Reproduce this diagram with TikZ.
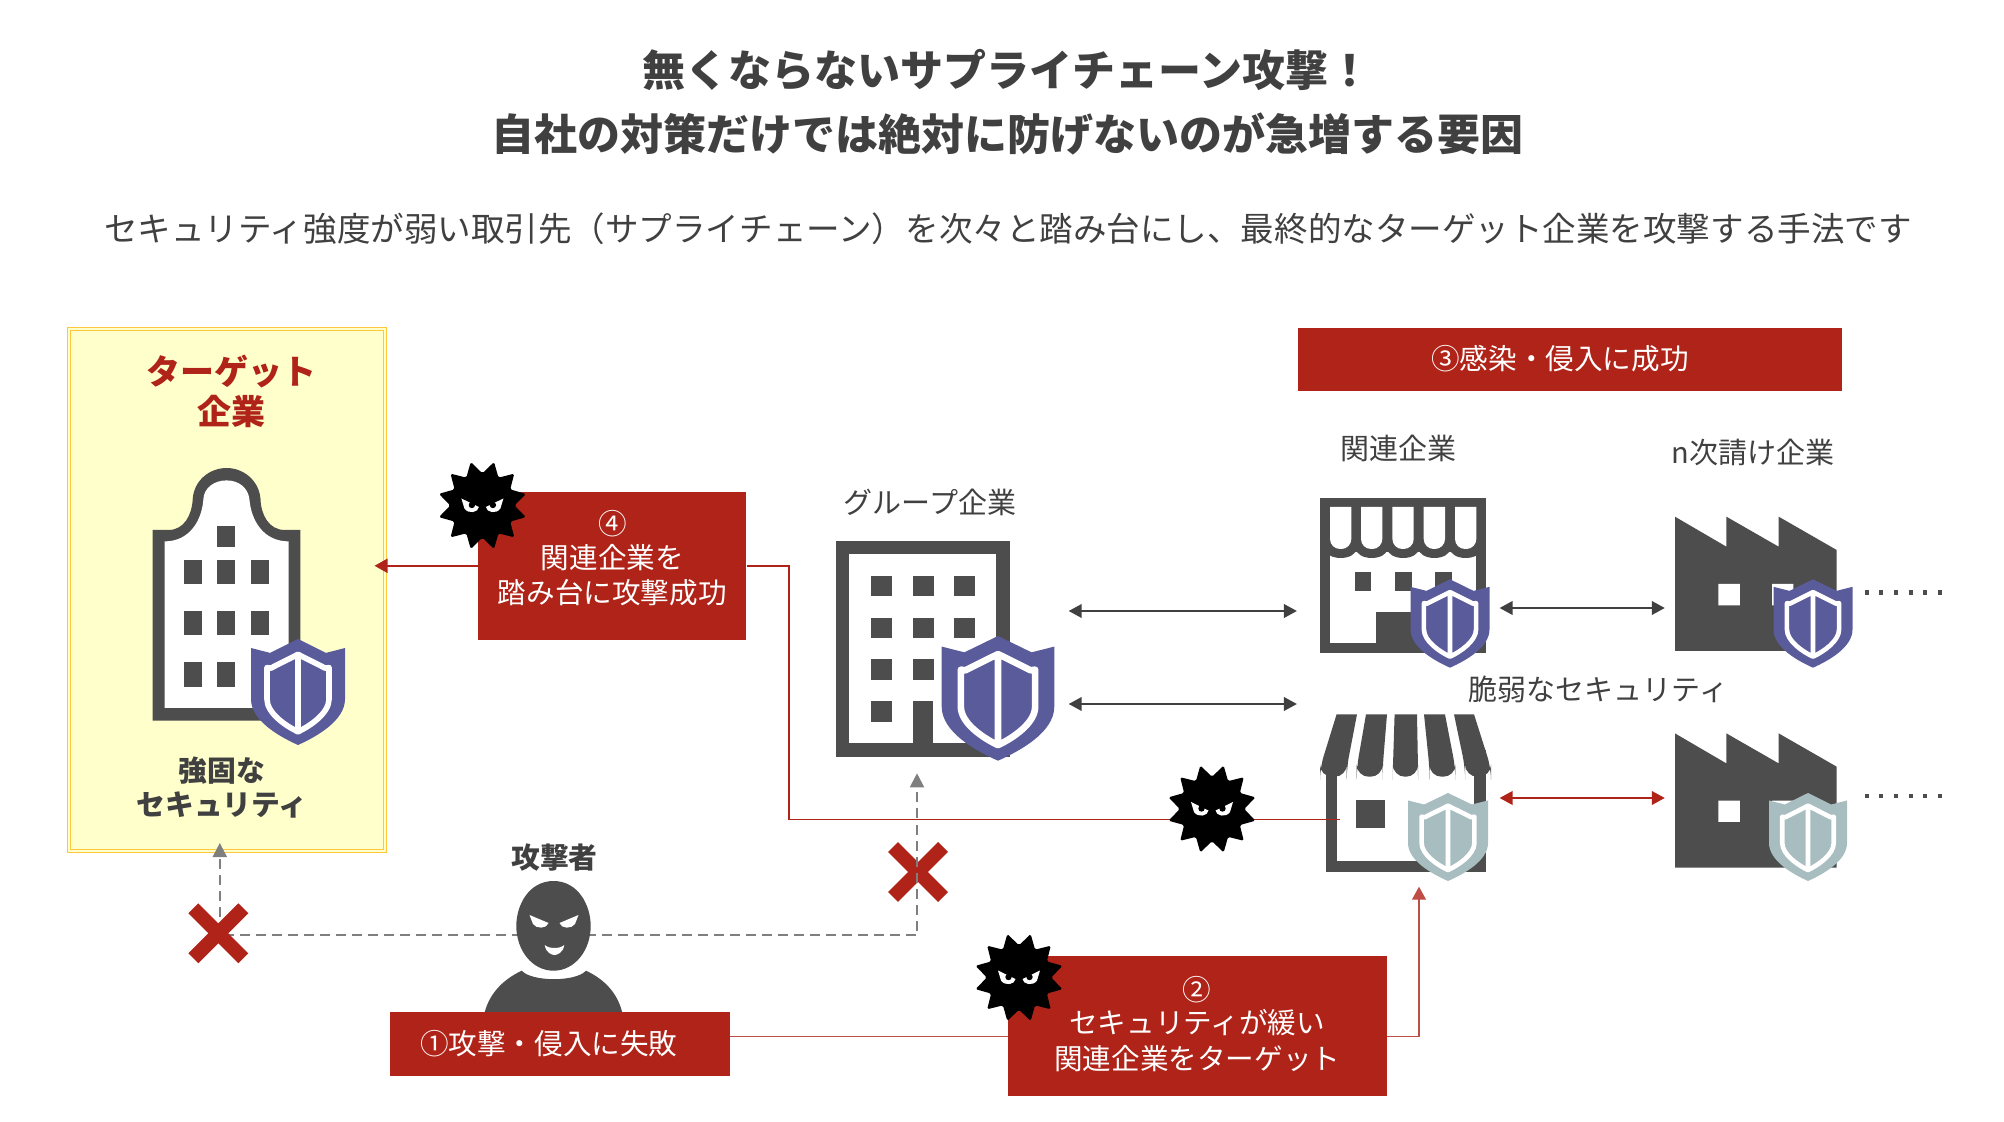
\documentclass[tikz,border=0pt]{standalone}
\usepackage{fontspec}
\setmainfont{Noto Sans CJK JP}
\usetikzlibrary{arrows.meta,shapes.geometric,shapes.misc}
\definecolor{ink}{HTML}{404040}
\definecolor{icon}{HTML}{4D4D4D}
\definecolor{attack}{HTML}{AF2318}
\definecolor{shieldblue}{HTML}{5A5B9B}
\definecolor{shieldpale}{HTML}{A8BDC0}
\definecolor{gold}{HTML}{FFC83C}
\definecolor{lightgold}{HTML}{FFFFCC}
\definecolor{dashgrey}{HTML}{7F7F7F}
\tikzset{
  headline/.style={text=ink,align=center,font=\fontsize{21.5}{32}\selectfont\bfseries},
  subline/.style={text=ink,font=\fontsize{16.77}{20}\selectfont},
  label/.style={text=ink,align=center,inner sep=0pt,font=\fontsize{14.5}{17}\selectfont},
  boldlabel/.style={text=ink,align=center,inner sep=0pt,font=\fontsize{14.4}{17}\selectfont\bfseries},
  redbox/.style={fill=attack,text=white,align=center,inner sep=0pt,font=\fontsize{14.3}{17.7}\selectfont},
  targetbox/.style={draw=gold,double=lightgold,double distance=1.2pt,line width=.5pt,fill=lightgold,
    minimum width=158pt,minimum height=261pt,inner sep=0pt},
  crossmark/.style={cross out,draw=attack,line width=7pt,minimum size=18pt,inner sep=0pt},
  virusstar/.style={star,star points=12,star point ratio=1.4,shape border rotate=15,fill=black,
    minimum size=45pt,inner sep=0pt,rounded corners=.8pt},
  twoway/.style={{Triangle[length=6.5pt,width=6.8pt]}-{Triangle[length=6.5pt,width=6.8pt]},draw=ink,line width=1pt},
  twowayred/.style={twoway,draw=attack},
  redline/.style={draw=attack,line width=.9pt},
  redarrow/.style={redline,-{Triangle[length=6.5pt,width=7pt]}},
  paleline/.style={draw=attack!80!white,line width=.6pt},
  trial/.style={draw=dashgrey,line width=1pt,dash pattern=on 5pt off 3pt,-{Triangle[length=7pt,width=7pt]}},
  dots/.style={draw=icon,line width=2.4pt,dash pattern=on 2pt off 5.3pt},
  shieldicon/.pic={
    \fill[pic actions] (0,0) -- (.298,.131) -- (.5,.085) -- (.5,.567)
      .. controls (.5,.77) and (.2,.92) .. (0,1)
      .. controls (-.2,.92) and (-.5,.77) .. (-.5,.567)
      -- (-.5,.085) -- (-.298,.131) -- cycle;
    \draw[white,line width=#1,line join=round] (0,.145) -- (.29,.275) -- (.33,.27) -- (.33,.567)
      .. controls (.33,.7) and (.13,.82) .. (0,.875)
      .. controls (-.13,.82) and (-.33,.7) .. (-.33,.567)
      -- (-.33,.27) -- (-.29,.275) -- cycle (0,.145) -- (0,.875);
  },
  virusicon/.pic={
    \node[virusstar] (body) at (0,0) {};
    \foreach \s in {1,-1}{
      \fill[white] (\s*21,-7) -- (\s*3.5,1.5) .. controls (\s*4,7) and (\s*14,9) .. (\s*18,3) -- cycle;
      \fill[black] (\s*10.5,-.5) circle[radius=3.2];
    }
  },
  factoryicon/.pic={
    \fill[icon] (0,0) -- (51.4,30) -- (51.4,0) -- (103.7,30) -- (103.7,0) -- (161.7,33.3)
      -- (161.7,134.3) -- (0,134.3) -- cycle;
    \fill[white] (43.4,67.3) rectangle (64.8,88.6) (97,67.3) rectangle (118.4,88.6);
  }
}
\begin{document}
\begin{tikzpicture}[x=.5pt,y=-.5pt]
\useasboundingbox (0,0) rectangle (2004,1122);

\node[headline] (title) at (1007,102) {無くならないサプライチェーン攻撃！\\自社の対策だけでは絶対に防げないのが急増する要因};
\node[subline] (subtitle) at (1008,229) {セキュリティ強度が弱い取引先（サプライチェーン）を次々と踏み台にし、最終的なターゲット企業を攻撃する手法です};

% target company
\node[targetbox] (target) at (227.1,590.3) {};
\node[inner sep=0pt,align=center,text=attack,font=\fontsize{17}{20.2}\selectfont\bfseries] (targetname) at (231,391.6) {ターゲット\\企業};
\fill[icon] (152.5,720.7) -- (152.5,530) -- (168.5,530) .. controls (184,530) and (192,515) .. (192.7,499)
  .. controls (194,480) and (210,468) .. (226.6,468) .. controls (243,468) and (259,480) .. (260.5,499)
  .. controls (261,515) and (269,530) .. (284.8,530) -- (300.3,530) -- (300.3,720.7) -- cycle;
\fill[white] (164.6,708) -- (164.6,541.4) .. controls (190,541.4) and (202,520) .. (203.4,499)
  .. controls (204,488) and (214,480.4) .. (226.6,480.4) .. controls (239,480.4) and (248,488) .. (249.4,499)
  .. controls (251,520) and (263,541.4) .. (288.7,541.4) -- (288.7,708) -- cycle;
\fill[icon] (217.4,526) rectangle ++(18,20.8);
\foreach \wx in {184,217.4,250.9}
  \foreach \wy in {560,611}
    \fill[icon] (\wx,\wy) rectangle ++(18,24.3);
\foreach \wx in {184,217.4}
  \fill[icon] (\wx,662.5) rectangle ++(18,24.3);
\pic[fill=shieldblue,xscale=94,yscale=106] at (298,639) {shieldicon=2.8pt};
\node[boldlabel] (strong) at (222,787.6) {強固な\\セキュリティ};

% group company
\node[label] (grouplabel) at (930,502) {グループ企業};
\fill[icon] (835.7,541) rectangle (1009.8,757);
\fill[white] (849,554) rectangle (996,743);
\foreach \wx in {870.5,912.5,954}
  \foreach \wy in {575.7,617.7,659.3}
    \fill[icon] (\wx,\wy) rectangle ++(21,20.8);
\fill[icon] (870.5,701) rectangle ++(21,21);
\fill[icon] (912.5,701) rectangle (933,743);
\pic[fill=shieldblue,xscale=112.6,yscale=124.7] at (998,636) {shieldicon=3.3pt};

% related company
\node[label] (relatedlabel) at (1398,448) {関連企業};
\fill[icon] (1320,497.7) rectangle (1486,652.7);
\fill[white] (1330,552) rectangle (1476,642.7);
\foreach \sx in {1330,1361,1392.4,1423.7,1455}{
  \fill[icon] (\sx+10.7,549) ellipse[x radius=15.5,y radius=9];
  \fill[white] (\sx,507) -- (\sx+21.3,507) [rounded corners=5pt] -- (\sx+21.3,549) -- (\sx,549) [sharp corners] -- cycle;
}
\foreach \wx in {1354.5,1395,1435.3}
  \fill[icon] (\wx,572) rectangle ++(16.5,18.7);
\fill[icon] (1376,611.7) rectangle (1486,652.7);
\pic[fill=shieldblue,xscale=79,yscale=88.4] at (1450,579.3) {shieldicon=2.3pt};

% related company with weak security
\node[label] (weaklabel) at (1598.5,689) {脆弱なセキュリティ};
\fill[icon] (1325.5,750) rectangle (1486,871.7);
\fill[white] (1336.6,750) rectangle (1474,860.7);
\foreach \ta/\tb/\ba/\bb in {1336.6/1357/1320/1346.7,1366/1387/1356.7/1382.6,1394.6/1417/1392.9/1418,1424/1445/1429.5/1455.4,1454/1474/1465.2/1491}
  \fill[icon] (\ta,714.3) -- (\tb,714.3) [rounded corners=6pt] -- (\bb,768) -- (\bb,776.7) -- (\ba,776.7) -- (\ba,768) [sharp corners] -- cycle;
\fill[icon] (1356,800) rectangle (1385,828.3);
\pic[fill=shieldpale,xscale=80,yscale=88] at (1448,793) {shieldicon=2.3pt};

% n-tier subcontractors
\node[label] (tierlabel) at (1753,452) {n次請け企業};
\pic at (1675,516.7) {factoryicon};
\pic[fill=shieldblue,xscale=79,yscale=88.4] at (1813,579.3) {shieldicon=2.3pt};
\pic at (1675,733.4) {factoryicon};
\pic[fill=shieldpale,xscale=78,yscale=88] at (1808,793) {shieldicon=2.3pt};
\coordinate (dotsA) at (1864.8,592.3);
\coordinate (dotsB) at (1941.6,592.3);
\coordinate (dotsC) at (1864.8,796);
\coordinate (dotsD) at (1941.6,796);
\draw[dots] (dotsA) -- (dotsB);
\draw[dots] (dotsC) -- (dotsD);

% two way links
\coordinate (groupA) at (1068.7,611);
\coordinate (relatedA) at (1296.9,611);
\coordinate (groupB) at (1068.7,704);
\coordinate (weakA) at (1296.9,704);
\coordinate (relatedB) at (1499.6,608);
\coordinate (tierA) at (1664.8,608);
\coordinate (weakB) at (1499.6,798);
\coordinate (tierB) at (1664.8,798);
\draw[twoway] (groupA) -- (relatedA);
\draw[twoway] (groupB) -- (weakA);
\draw[twoway] (relatedB) -- (tierA);
\draw[twowayred] (weakB) -- (tierB);

% failed attempts
\node[crossmark] (crossgroup) at (918,872) {};
\coordinate (attackerpos) at (553.5,935);
\coordinate (grouptip) at (917,773.3);
\coordinate (targettip) at (219.8,843);
\draw[trial] (attackerpos) -| (grouptip);
\draw[trial] (attackerpos) -| (targettip);
\node[crossmark] (crosstarget) at (218.3,933.3) {};

% attacker
\node[boldlabel] (attackerlabel) at (554.5,858) {攻撃者};
\fill[icon] (483.8,1016) .. controls (488,995) and (502,980) .. (521.7,970.7)
  .. controls (532,982) and (576,982) .. (586,970.7) .. controls (606,980) and (619,995) .. (623,1016) -- cycle;
\fill[icon] (553.5,881) .. controls (578,881) and (590.7,905) .. (590.7,926)
  .. controls (590.7,950) and (575,970.7) .. (553.5,970.7) .. controls (532,970.7) and (516.3,950) .. (516.3,926)
  .. controls (516.3,905) and (529,881) .. (553.5,881) -- cycle;
\foreach \s in {1,-1}{
  \fill[white] (554+\s*24.5,915) -- (554+\s*5.5,923) .. controls (554+\s*7,929) and (554+\s*18,929) .. (554+\s*21,924) -- cycle;
}
\fill[white] (544.7,945) .. controls (549,949) and (560,949) .. (564.3,945) .. controls (563,953) and (557,955) .. (554.5,955) .. controls (552,955) and (546,953) .. (544.7,945) -- cycle;

% red steps
\node[redbox,minimum width=272pt,minimum height=31.5pt] (stepthree) at (1570,359.5) {③感染・侵入に成功\hspace*{10pt}\\[-15.2pt]\mbox{}};
\node[redbox,minimum width=134pt,minimum height=73.8pt] (stepfour) at (612.3,565.8) {④\\[-.8pt]関連企業を\\踏み台に攻撃成功\\[-8.7pt]\mbox{}};
\node[redbox,minimum width=170pt,minimum height=31.8pt,text width=140pt,align=left,inner xsep=15pt] (stepone) at (560,1043.8) {①攻撃・侵入に失敗};
\node[redbox,minimum width=189.3pt,minimum height=69.8pt] (steptwo) at (1197.2,1025.9) {②\\[-.8pt]セキュリティが緩い\\関連企業をターゲット\\[-14.3pt]\mbox{}};

% attack route
\coordinate (routeB) at (0,1036.7);
\coordinate (weakin) at (1419,886.7);
\coordinate (weakport) at (1340,819.5);
\coordinate (routeturn) at (789,819.5);
\draw[paleline] (stepone.east |- routeB) -- (steptwo.west |- routeB);
\draw[paleline,-{Triangle[length=6.5pt,width=7pt]}] (steptwo.east |- routeB) -| (weakin);
\draw[redline] (weakport) -- (routeturn) |- (stepfour.east);
\coordinate (targetin) at (374.5,565.8);
\draw[redarrow] (stepfour.west) -- (targetin);

\pic (virusA) at (482.4,505.5) {virusicon};
\pic (virusB) at (1212,809) {virusicon};
\pic (virusC) at (1019,977.5) {virusicon};
\end{tikzpicture}
\end{document}
